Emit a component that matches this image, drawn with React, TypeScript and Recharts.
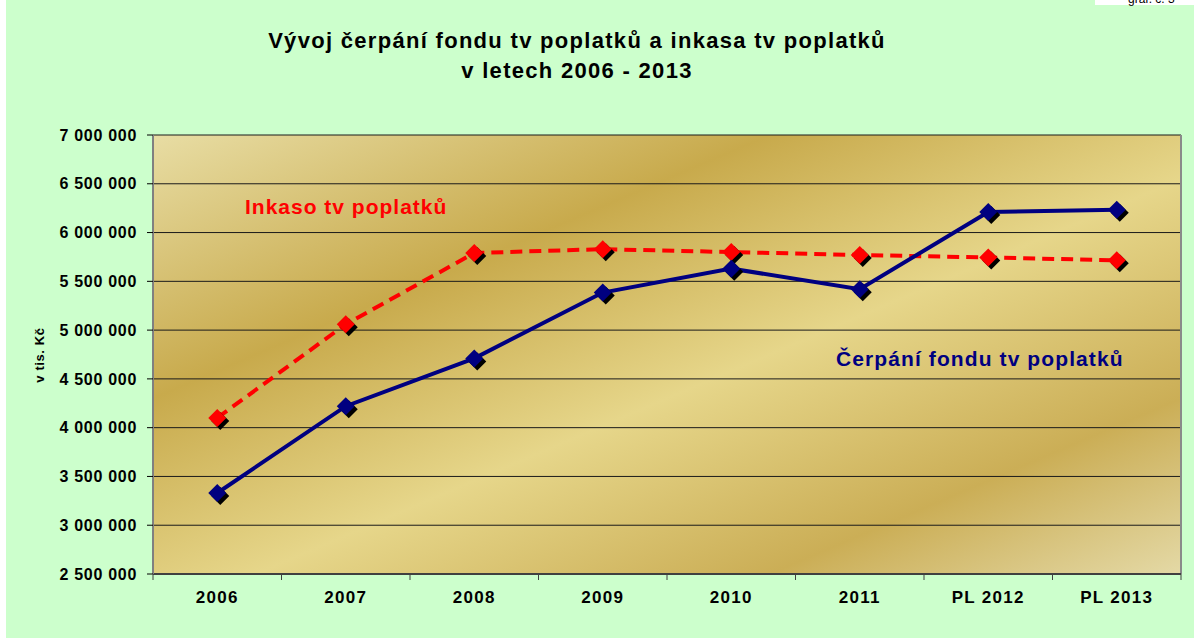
import React from 'react';
import { LineChart, Line, XAxis, YAxis, CartesianGrid, ReferenceLine } from 'recharts';

const categories = ['2006', '2007', '2008', '2009', '2010', '2011', 'PL 2012', 'PL 2013'];
const inkaso = [4100000, 5060000, 5790000, 5830000, 5800000, 5770000, 5745000, 5715000];
const cerpani = [3330000, 4220000, 4710000, 5385000, 5630000, 5420000, 6210000, 6235000];
const yTicks = [2500000, 3000000, 3500000, 4000000, 4500000, 5000000, 5500000, 6000000, 6500000, 7000000];

const data = categories.map((c, i) => ({ pos: i + 0.5, cat: c, inkaso: inkaso[i], cerpani: cerpani[i] }));
const xTicks: number[] = [];
for (let i = 0; i <= categories.length; i++) {
  xTicks.push(i);
  if (i < categories.length) xTicks.push(i + 0.5);
}

const FONT = "Arial, 'Liberation Sans', sans-serif";
const fmt = (v: number) => String(v).replace(/\B(?=(\d{3})+(?!\d))/g, ' ');

const diamond = (cx: number, cy: number, r: number) => `M${cx},${cy - r}L${cx + r},${cy}L${cx},${cy + r}L${cx - r},${cy}Z`;

const makeDot = (color: string) => (props: any) => {
  const { cx, cy, index } = props;
  if (cx == null || cy == null) return <g key={index} />;
  return (
    <g key={index}>
      <path d={diamond(cx + 3, cy + 3, 9)} fill="#000" />
      <path d={diamond(cx, cy, 9)} fill={color} />
    </g>
  );
};

const XTick = (props: any) => {
  const { x, y, payload } = props;
  const v = payload.value as number;
  if (Number.isInteger(v)) {
    return <line x1={x} x2={x} y1={y} y2={y + 6} stroke="#404040" strokeWidth={1} />;
  }
  const label = categories[Math.floor(v)];
  return (
    <text x={x} y={y + 29} textAnchor="middle" fontFamily={FONT} fontWeight="bold" fontSize={17} letterSpacing={1.3} fill="#000">
      {label}
    </text>
  );
};

export default function App() {
  return (
    <div style={{ position: 'absolute', left: 0, top: 0, width: 1194, height: 638, background: '#fff' }}>
      <div style={{ position: 'absolute', left: 6, top: 0, width: 1188, height: 638, background: '#CCFFCC' }} />
      <div style={{ position: 'absolute', left: 0, top: 0 }}>
        <LineChart width={1194} height={638} data={data} margin={{ top: 135, right: 13, bottom: 24, left: 0 }}>
          <defs>
            <linearGradient id="gold" x1="0" y1="0" x2="1" y2="1">
              <stop offset="0" stopColor="#E8DDA4" />
              <stop offset="0.3" stopColor="#C8AA4C" />
              <stop offset="0.55" stopColor="#E6D68A" />
              <stop offset="0.8" stopColor="#CBAE56" />
              <stop offset="1" stopColor="#E4D9A6" />
            </linearGradient>
          </defs>
          <CartesianGrid vertical={false} stroke="#1a1a1a" strokeWidth={1} fill="url(#gold)" fillOpacity={1} />
          <XAxis
            dataKey="pos"
            type="number"
            domain={[0, categories.length]}
            ticks={xTicks}
            interval={0}
            height={40}
            tickSize={0}
            tickMargin={0}
            tickLine={false}
            axisLine={{ stroke: '#404040', strokeWidth: 2 }}
            tick={<XTick />}
          />
          <YAxis
            type="number"
            domain={[2500000, 7000000]}
            ticks={yTicks}
            interval={0}
            width={153}
            tickSize={6}
            tickMargin={10}
            tickFormatter={fmt}
            axisLine={{ stroke: '#808080', strokeWidth: 2 }}
            tickLine={{ stroke: '#000' }}
            tick={{ fill: '#000', fontFamily: FONT, fontWeight: 'bold', fontSize: 16, letterSpacing: 0.7 }}
          />
          <ReferenceLine x={categories.length} stroke="#8a8a8a" strokeWidth={2} />
          <Line
            type="linear"
            dataKey="inkaso"
            stroke="#FF0000"
            strokeWidth={4}
            strokeDasharray="12 7"
            dot={makeDot('#FF0000')}
            activeDot={false}
            isAnimationActive={false}
          />
          <Line
            type="linear"
            dataKey="cerpani"
            stroke="#000080"
            strokeWidth={4}
            dot={makeDot('#000080')}
            activeDot={false}
            isAnimationActive={false}
          />
          <text x={577} y={48} textAnchor="middle" fontFamily={FONT} fontWeight="bold" fontSize={22} letterSpacing={1.3} fill="#000">
            Vývoj čerpání fondu tv poplatků a inkasa tv poplatků
          </text>
          <text x={577} y={78} textAnchor="middle" fontFamily={FONT} fontWeight="bold" fontSize={22} letterSpacing={1.3} fill="#000">
            v letech 2006 - 2013
          </text>
          <text x={245} y={214} fontFamily={FONT} fontWeight="bold" fontSize={21} letterSpacing={1.0} fill="#FF0000">
            Inkaso tv poplatků
          </text>
          <text x={836} y={366} fontFamily={FONT} fontWeight="bold" fontSize={21} letterSpacing={1.1} fill="#000080">
            Čerpání fondu tv poplatků
          </text>
          <text
            x={44}
            y={355}
            transform="rotate(-90, 44, 355)"
            textAnchor="middle"
            fontFamily={FONT}
            fontWeight="bold"
            fontSize={13}
            letterSpacing={0.6}
            fill="#000"
          >
            v tis. Kč
          </text>
          <rect x={1095} y={0} width={99} height={5} fill="#fff" />
          <text x={1128} y={3} fontFamily={FONT} fontSize={12} fill="#000">
            graf. č. 3
          </text>
        </LineChart>
      </div>
    </div>
  );
}
